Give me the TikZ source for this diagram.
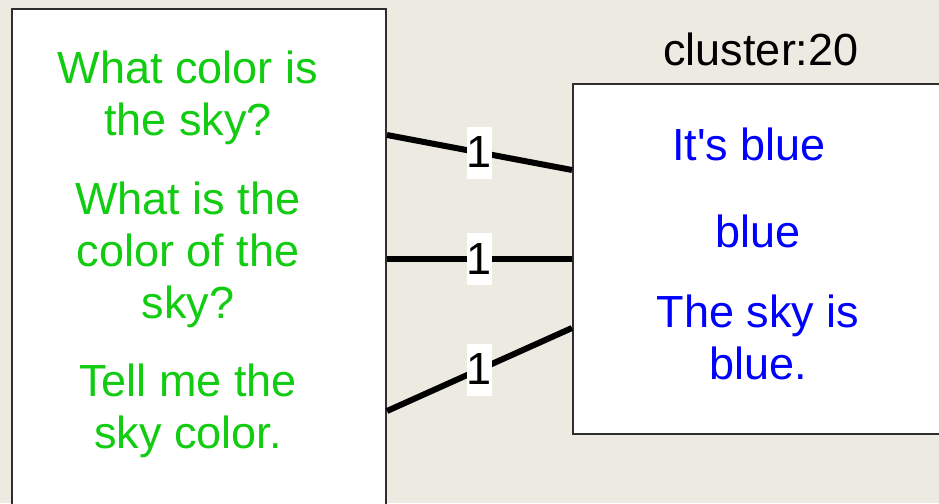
\documentclass[tikz,border=0pt]{standalone}
\usepackage{fontspec}
\setmainfont{Liberation Sans}[Ligatures=TeXOff]
\definecolor{canvas}{HTML}{EDEAE2}
\definecolor{frame}{HTML}{2E2E2E}
\definecolor{qgreen}{HTML}{11CC11}
\definecolor{ablue}{HTML}{0000FF}
\tikzset{
  clusterbox/.style={draw=frame, line width=2pt, fill=white, rectangle, inner sep=0pt, anchor=north west},
  bigtext/.style={font=\fontsize{45}{52}\selectfont, inner sep=0pt, align=center, anchor=base},
  question/.style={bigtext, text=qgreen},
  answer/.style={bigtext, text=ablue},
  link/.style={line width=6pt, black},
  weight/.style={fill=white, inner sep=0pt, minimum width=24pt, minimum height=52pt,
                 font=\fontsize{45}{52}\selectfont}
}
\begin{document}
\begin{tikzpicture}[x=1pt, y=-1pt]
  \useasboundingbox (0,0) rectangle (939,503);
  \fill[canvas] (0,0) rectangle (939,503);
  \clip (0,0) rectangle (939,503);

  % the two boxes (both run past the edge of the page)
  \node[clusterbox, minimum width=374.5pt, minimum height=530pt] (src) at (10.5,8.5) {};
  \node[clusterbox, minimum width=400pt, minimum height=350pt] (dst) at (572,83) {};
  \node[font=\fontsize{45}{52}\selectfont, inner sep=0pt, anchor=base] (title) at (761,66) {cluster:20};

  % questions (anchored at the baseline of their last line)
  \node[question] (q1) at (188,135) {What color is\\the sky?};
  \node[question] (q2) at (188,318) {What is the\\color of the\\sky?};
  \node[question] (q3) at (188,448) {Tell me the\\sky color.};

  % answers
  \node[answer] (r1) at (749,160) {It's blue};
  \node[answer] (r2) at (758,247) {blue};
  \node[answer] (r3) at (758,379) {The sky is\\blue.};

  % connector end points on the box borders
  \coordinate (s1) at (src.north east |- 0,135);
  \coordinate (s2) at (src.north east |- 0,259);
  \coordinate (s3) at (src.north east |- 0,411);
  \coordinate (t1) at (dst.north west |- 0,170);
  \coordinate (t2) at (dst.north west |- 0,259);
  \coordinate (t3) at (dst.north west |- 0,328);

  \draw[link] (s1) -- node[weight] (w1) {1} (t1);
  \draw[link] (s2) -- node[weight] (w2) {1} (t2);
  \draw[link] (s3) -- node[weight] (w3) {1} (t3);
\end{tikzpicture}
\end{document}
